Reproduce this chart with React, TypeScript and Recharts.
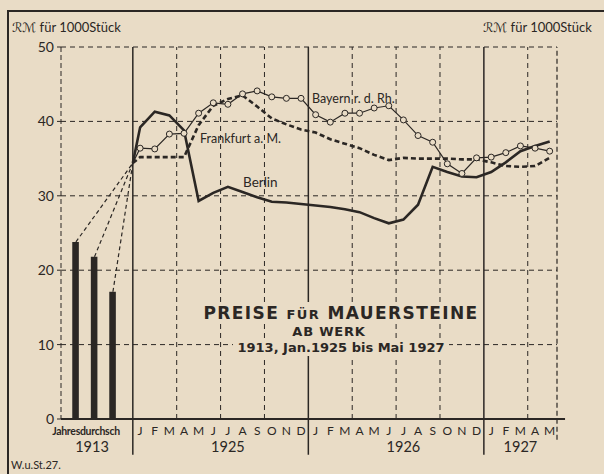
import {
  ComposedChart,
  Bar,
  Line,
  XAxis,
  YAxis,
  CartesianGrid,
  ReferenceLine,
} from "recharts";

const BG = "#e9dcc6";
const INK = "#2b2724";
const FONT = "Lato, 'DejaVu Sans', sans-serif";
const WIDE = "'DejaVu Sans', sans-serif";

// Jan 1925 .. May 1927, one letter per month
const MONTH_LETTERS = [
  "J", "F", "M", "A", "M", "J", "J", "A", "S", "O", "N", "D",
  "J", "F", "M", "A", "M", "J", "J", "A", "S", "O", "N", "D",
  "J", "F", "M", "A", "M",
];
const YEAR_LABELS: Record<number, string> = { 6: "1925", 18: "1926", 26: "1927" };

// RM für 1000 Stück
const BERLIN = [
  39.2, 41.3, 40.8, 38.8, 29.3, 30.4, 31.2, 30.5, 29.8, 29.2, 29.1, 28.9,
  28.7, 28.5, 28.2, 27.8, 27.0, 26.3, 26.8, 28.8, 33.9, 33.2, 32.6, 32.5,
  33.2, 34.5, 36.0, 36.7, 37.3,
];
const FRANKFURT = [
  35.2, 35.2, 35.2, 35.2, 39.5, 42.1, 43.0, 43.5, 42.0, 40.4, 39.6, 38.9,
  38.5, 37.6, 37.0, 36.4, 35.5, 34.8, 35.1, 35.0, 35.0, 35.0, 34.9, 34.9,
  34.5, 34.0, 33.9, 34.0, 35.1,
];
const BAYERN = [
  36.4, 36.3, 38.3, 38.4, 41.1, 42.5, 42.3, 43.7, 44.1, 43.3, 43.1, 43.1,
  40.9, 39.9, 41.1, 41.1, 41.8, 42.1, 40.2, 38.1, 37.2, 34.3, 33.0, 35.1,
  35.2, 35.8, 36.7, 36.4, 36.0,
];
const START_1925 = 34.4;

// 1913 Jahresdurchschnitt
const BARS_1913 = [23.8, 21.8, 17.1];
const BAR_SLOTS = [-3.89, -2.62, -1.36];

const Y_TICKS = [0, 10, 20, 30, 40, 50];
const QUARTERS = [3, 6, 9, 15, 18, 21, 27];
const YEAR_BREAKS = [0, 12, 24];
const X_MIN = -4.91;
const X_MAX = 29;

const rows: any[] = [
  ...BARS_1913.map((v, i) => ({ m: BAR_SLOTS[i], bar: v, ["c" + i]: v })),
  { m: 0, berlin: START_1925, frankfurt: START_1925, bayern: START_1925, c0: START_1925, c1: START_1925, c2: START_1925 },
  ...MONTH_LETTERS.map((_, i) => ({ m: i + 0.5, berlin: BERLIN[i], frankfurt: FRANKFURT[i], bayern: BAYERN[i] })),
];

const MONTH_TICKS = [-3.2, ...MONTH_LETTERS.map((_, i) => i + 0.5)];

function MonthTick({ x, y, payload }: any) {
  const v = payload.value;
  if (v < 0) {
    return (
      <g>
        <text x={x} y={y + 8} textAnchor="middle" fontSize={10.5} fontWeight={700} fill={INK} fontFamily={FONT} letterSpacing={-0.3}>
          Jahresdurchsch
        </text>
        <text x={x + 6} y={y + 25} textAnchor="middle" fontSize={14.5} fill={INK} fontFamily={FONT}>
          1913
        </text>
      </g>
    );
  }
  const i = Math.floor(v);
  return (
    <g>
      <text x={x} y={y + 8} textAnchor="middle" fontSize={12} fill={INK} fontFamily={FONT}>
        {MONTH_LETTERS[i]}
      </text>
      {YEAR_LABELS[i] && (
        <text x={x} y={y + 25} textAnchor="middle" fontSize={14.5} fill={INK} fontFamily={FONT}>
          {YEAR_LABELS[i]}
        </text>
      )}
    </g>
  );
}

function BayernDot(props: any) {
  const { cx, cy, payload, index } = props;
  if (payload.m === 0 || cy == null) return <g key={"d" + index} />;
  return <circle key={"d" + index} cx={cx} cy={cy} r={3} fill={BG} stroke={INK} strokeWidth={1} />;
}

const txt = (extra: any) => ({ position: "absolute" as const, fontFamily: FONT, color: INK, whiteSpace: "nowrap" as const, ...extra });

export default function App() {
  return (
    <div style={{ position: "fixed", left: 0, top: 0, width: 604, height: 474, background: BG, overflow: "hidden" }}>
      <div style={{ position: "absolute", left: 7, top: 10, right: 0, bottom: -5, borderTop: `2px solid ${INK}`, borderLeft: `2px solid ${INK}` }} />
      <ComposedChart width={604} height={474} data={rows} margin={{ top: 47, right: 7, bottom: 15, left: 16 }}>
        <CartesianGrid vertical={false} stroke={INK} strokeDasharray="5 4" strokeWidth={1} />
        <XAxis
          type="number"
          dataKey="m"
          domain={[X_MIN, X_MAX]}
          allowDataOverflow
          ticks={MONTH_TICKS}
          tick={<MonthTick />}
          tickLine={false}
          axisLine={false}
          height={40}
          interval={0}
        />
        <YAxis
          domain={[0, 50]}
          ticks={Y_TICKS}
          width={45}
          tick={{ fill: INK, fontSize: 14, fontFamily: FONT }}
          tickSize={4}
          tickMargin={3}
          tickLine={{ stroke: INK }}
          axisLine={{ stroke: INK, strokeDasharray: "5 3" }}
        />
        <YAxis
          yAxisId="r"
          orientation="right"
          domain={[0, 50]}
          ticks={Y_TICKS}
          width={40}
          tick={{ fill: INK, fontSize: 14, fontFamily: FONT }}
          tickSize={4}
          tickMargin={4}
          tickLine={{ stroke: INK }}
          axisLine={false}
        />
        {QUARTERS.map((q) => (
          <ReferenceLine key={"q" + q} x={q} stroke={INK} strokeDasharray="5 4" strokeWidth={1} />
        ))}
        {YEAR_BREAKS.map((b) => (
          <ReferenceLine
            key={"y" + b}
            segment={[{ x: b, y: -4.8 }, { x: b, y: 50 }]}
            ifOverflow="visible"
            stroke={INK}
            strokeWidth={1.5}
          />
        ))}
        <ReferenceLine segment={[{ x: X_MAX, y: -2.8 }, { x: X_MAX, y: 50 }]} ifOverflow="visible" stroke={INK} strokeDasharray="5 3" strokeWidth={1.2} />
        <ReferenceLine segment={[{ x: X_MIN, y: 0 }, { x: 29.55, y: 0 }]} ifOverflow="visible" stroke={INK} strokeWidth={2} />
        <Bar dataKey="bar" barSize={8} fill={INK} isAnimationActive={false} />
        {[0, 1, 2].map((i) => (
          <Line key={"c" + i} dataKey={"c" + i} stroke={INK} strokeWidth={1.2} strokeDasharray="4 3" dot={false} connectNulls isAnimationActive={false} />
        ))}
        <Line dataKey="frankfurt" stroke={INK} strokeWidth={2.6} strokeDasharray="5 3" dot={false} isAnimationActive={false} />
        <Line dataKey="berlin" stroke={INK} strokeWidth={2.6} dot={false} isAnimationActive={false} />
        <Line dataKey="bayern" stroke={INK} strokeWidth={1.2} dot={BayernDot} isAnimationActive={false} />
      </ComposedChart>

      <div style={txt({ left: 12, top: 19, fontSize: 13 })}>ℛℳ für 1000Stück</div>
      <div style={txt({ left: 483, top: 19, fontSize: 13 })}>ℛℳ für 1000Stück</div>
      <div style={txt({ left: 11, top: 458, fontSize: 11 })}>W.u.St.27.</div>

      <div style={txt({ left: 312, top: 91, fontSize: 12.5 })}>Bayern r. d. Rh.</div>
      <div style={txt({ left: 200, top: 131, fontSize: 12.5 })}>Frankfurt a. M.</div>
      <div style={txt({ left: 243, top: 174, fontSize: 13.5 })}>Berlin</div>

      <div style={{ position: "absolute", left: 140, top: 305, width: 402, textAlign: "center", fontFamily: WIDE, color: INK, fontWeight: 700, lineHeight: 1 }}>
        <div><span style={{ background: BG, padding: "1px 4px", fontSize: 17, letterSpacing: 1.4 }}>PREISE <span style={{ fontSize: 13 }}>FÜR</span> MAUERSTEINE</span></div>
        <div style={{ marginTop: 1, position: "relative", left: -12 }}><span style={{ background: BG, padding: "1px 4px", fontSize: 13, letterSpacing: 0.8 }}>AB WERK</span></div>
        <div style={{ marginTop: 0 }}><span style={{ background: BG, padding: "1px 4px", fontSize: 13 }}>1913, Jan.1925 bis Mai 1927</span></div>
      </div>
    </div>
  );
}
